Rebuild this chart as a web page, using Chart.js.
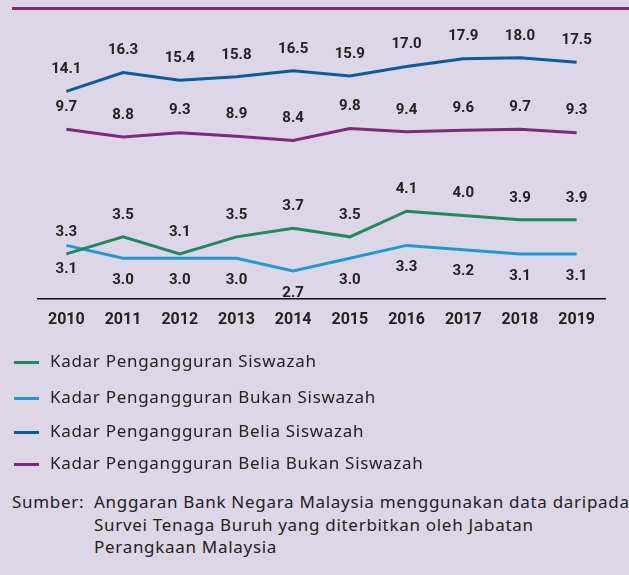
<!DOCTYPE html>
<html>
<head>
<meta charset="utf-8">
<script src="https://cdn.jsdelivr.net/npm/chart.js@4.4.0/dist/chart.umd.min.js"></script>
<style>
body{margin:0;background:#ddd6e6;width:629px;height:575px;overflow:hidden;font-family:"Noto Sans",sans-serif;color:#222;}
#garisAtas{position:absolute;left:12px;top:7px;width:617px;height:3px;background:#7d2a72;}
#wrap{position:absolute;left:0;top:0;width:629px;height:351px;}
.item{position:absolute;left:14px;height:22px;line-height:22px;font-size:17px;letter-spacing:0.7px;white-space:nowrap;}
.item span{display:inline-block;width:25px;height:3px;vertical-align:middle;margin-right:11px;}
.sumber{position:absolute;font-size:17px;letter-spacing:0.7px;white-space:nowrap;line-height:22.5px;}
</style>
</head>
<body>
<div id="garisAtas"></div>
<div id="wrap"><canvas id="chartGrafik"></canvas></div>
<div id="legend"></div>
<div class="sumber" style="left:12px;top:491px;">Sumber:</div>
<div class="sumber" style="left:94px;top:491px;">Anggaran Bank Negara Malaysia menggunakan data daripada<br>Survei Tenaga Buruh yang diterbitkan oleh Jabatan<br>Perangkaan Malaysia</div>
<script>
// data
var tahun = ['2010','2011','2012','2013','2014','2015','2016','2017','2018','2019'];
var siswazah = [3.1, 3.5, 3.1, 3.5, 3.7, 3.5, 4.1, 4.0, 3.9, 3.9];
var bukanSiswazah = [3.3, 3.0, 3.0, 3.0, 2.7, 3.0, 3.3, 3.2, 3.1, 3.1];
var beliaSiswazah = [14.1, 16.3, 15.4, 15.8, 16.5, 15.9, 17.0, 17.9, 18.0, 17.5];
var beliaBukanSiswazah = [9.7, 8.8, 9.3, 8.9, 8.4, 9.8, 9.4, 9.6, 9.7, 9.3];
var namaSiri = ['Kadar Pengangguran Siswazah', 'Kadar Pengangguran Bukan Siswazah',
                'Kadar Pengangguran Belia Siswazah', 'Kadar Pengangguran Belia Bukan Siswazah'];

var warna = ['#1f8a5c', '#1e9bd7', '#0b5a9e', '#7e2a78'];
// jarak label dari titik (negatif = atas)
var jarakLabel = [
    [15, -22, -22, -22, -22, -22, -22, -22, -22, -22],
    [-13, 22, 22, 22, 22, 22, 22, 22, 22, 22],
    [-22, -22, -22, -22, -22, -22, -22, -22, -22, -22],
    [-22, -22, -22, -22, -22, -22, -22, -22, -22, -22]
];

var labelPlugin = {
    id: 'labelNilai',
    afterDatasetsDraw: function(chart){
        var ctx = chart.ctx;
        ctx.save();
        ctx.font = 'bold 15px Roboto';
        ctx.fillStyle = '#222';
        ctx.textAlign = 'center';
        ctx.textBaseline = 'middle';
        chart.data.datasets.forEach(function(ds, i){
            var meta = chart.getDatasetMeta(i);
            meta.data.forEach(function(pt, j){
                ctx.fillText(ds.data[j].toFixed(1), pt.x, pt.y + jarakLabel[i][j]);
            });
        });
        ctx.restore();
    }
};

var siri = [siswazah, bukanSiswazah, beliaSiswazah, beliaBukanSiswazah];
var paksi = ['y2', 'y2', 'y', 'y'];
var datasets = siri.map(function(d, i){
    return {
        label: namaSiri[i],
        data: d,
        yAxisID: paksi[i],
        borderColor: warna[i],
        backgroundColor: warna[i],
        borderWidth: 3,
        pointRadius: 0,
        tension: 0,
        fill: false
    };
});

new Chart(document.getElementById('chartGrafik'), {
    type: 'line',
    data: { labels: tahun, datasets: datasets },
    plugins: [labelPlugin],
    options: {
        responsive: true,
        maintainAspectRatio: false,
        animation: false,
        layout: { padding: { top: 20, left: 38, right: 24, bottom: 9 } },
        plugins: { legend: { display: false }, tooltip: { enabled: false } },
        scales: {
            x: {
                offset: true,
                grid: { display: false, drawTicks: false },
                border: { display: true, color: '#111', width: 1.5 },
                ticks: { color: '#222', padding: 12, font: { family: 'Roboto', size: 16, weight: 'bold' } }
            },
            y: { display: false, min: -10, max: 22.4 },
            y2: { display: false, min: 2.05, max: 8.575 }
        }
    }
});

// legend
var tinggi = [361, 397, 431, 463];
var leg = document.getElementById('legend');
namaSiri.forEach(function(n, i){
    var el = document.createElement('div');
    el.className = 'item';
    el.style.top = (tinggi[i] - 11) + 'px';
    el.innerHTML = '<span style="background:' + warna[i] + '"></span>' + n;
    leg.appendChild(el);
});
</script>
</body>
</html>
